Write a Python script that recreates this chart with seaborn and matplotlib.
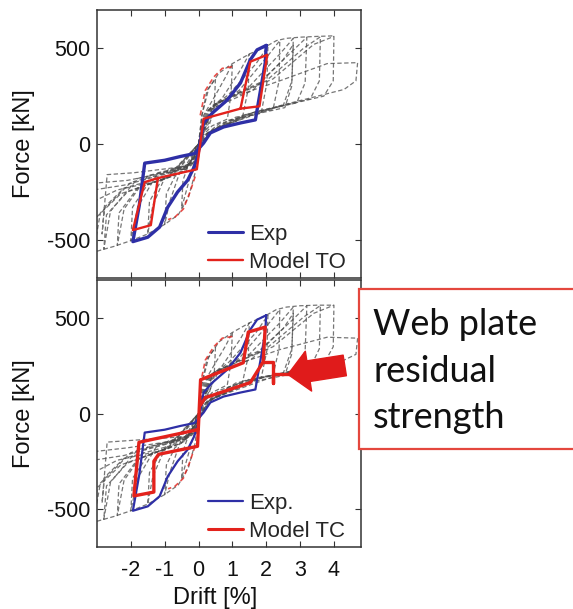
import matplotlib
matplotlib.use("Agg")
import matplotlib.pyplot as plt
import numpy as np
import pandas as pd
import seaborn as sns
from matplotlib.lines import Line2D
from matplotlib.patches import Rectangle, FancyArrowPatch

# ---------------------------------------------------------------- data
# Experimental loop (drift %, force kN)
exp_drift = [2.00, 1.97, 1.85, 1.73, 1.68, 1.24, 0.74, 0.35, 0.15, -0.12, -0.53, -1.00,
             -1.59, -1.75, -1.94, -1.75, -1.50, -1.15, -0.91, -0.62, -0.32, -0.13, -0.03,
             0.15, 0.41, 0.85, 1.24, 1.53, 1.73, 2.00]
exp_force = [515, 424, 300, 178, 126, 110, 89, 58, 5, -50, -65, -85,
             -100, -320, -510, -500, -487, -434, -330, -251, -189, -120, -68,
             110, 162, 230, 319, 440, 492, 515]

# Model TO, cycle at 2 % drift
to_drift = [-1.20, -1.41, -1.94, -1.59, -1.20, -0.05, 0.15, 1.24, 1.80, 2.03, 1.53, 1.24]
to_force = [-178, -424, -450, -199, -178, -132, 132, 185, 197, 466, 430, 185]

# Model TC, cycle at 2 % drift, and the residual web-plate branch
tc_drift = [0.04, 0.20, 1.53, 1.91, 1.97, 1.47, 1.32, 0.06, -0.03, -1.18, -1.32, -1.32,
            -1.91, -1.76, -0.03]
tc_force = [40, 83, 162, 271, 453, 427, 266, 177, -172, -214, -250, -412,
            -432, -151, -85]
tc_res_drift = [1.91, 2.20, 2.20, 2.20, 2.72]
tc_res_force = [271, 271, 162, 205, 205]

# Model first-excursion curves (red dashed)
bb_pos_drift = [0.05, 0.20, 0.45, 0.70, 1.05]
bb_pos_force = [150, 280, 350, 395, 405]
bb_neg_drift = [-0.10, -0.25, -0.45, -0.70, -0.90]
bb_neg_force = [-170, -250, -340, -382, -395]

# Model TO, full loading history (grey dashed cycles)
to_c1_x = [0.00, 0.10, 0.25, 0.50, 0.46, 0.30, 0.10, -0.05, -0.20, -0.50, -0.46, -0.30, -0.10, 0.00]
to_c1_y = [0, 150, 280, 340, 180, 90, 50, -60, -140, -335, -190, -110, -60, 0]
to_c2_x = [0.00, 0.15, 0.45, 0.80, 1.00, 0.96, 0.85, 0.40, 0.10, -0.10, -0.50, -0.85, -1.00, -0.95, -0.70, -0.30, 0.00]
to_c2_y = [0, 150, 240, 350, 420, 260, 130, 95, 40, -90, -120, -300, -420, -260, -170, -120, 0]
to_c3_x = [0.00, 0.20, 0.70, 1.25, 1.50, 1.47, 1.30, 0.60, 0.15, -0.15, -0.90, -1.35, -1.50, -1.45, -1.10, -0.40, 0.00]
to_c3_y = [0, 160, 240, 390, 470, 290, 140, 105, 40, -100, -135, -320, -470, -300, -190, -140, 0]
to_c4_x = [0.00, 0.25, 0.90, 1.70, 2.05, 2.02, 1.85, 0.90, 0.20, -0.20, -1.20, -1.80, -2.00, -1.95, -1.50, -0.50, 0.00]
to_c4_y = [0, 170, 260, 420, 510, 320, 160, 125, 50, -110, -150, -330, -505, -330, -210, -150, 0]
to_c5_x = [0.00, 0.30, 1.20, 2.00, 2.40, 2.38, 2.20, 1.10, 0.25, -0.25, -1.50, -2.20, -2.40, -2.35, -1.80, -0.70, 0.00]
to_c5_y = [0, 180, 280, 450, 540, 330, 180, 140, 55, -115, -165, -340, -530, -360, -230, -160, 0]
to_c6_x = [0.00, 0.35, 1.50, 2.40, 2.80, 2.76, 2.50, 1.30, 0.30, -0.30, -1.80, -2.60, -2.80, -2.72, -2.10, -0.80, 0.00]
to_c6_y = [0, 190, 300, 470, 552, 330, 200, 150, 60, -120, -180, -350, -550, -370, -250, -170, 0]
to_c7_x = [0.00, 0.40, 1.80, 2.80, 3.20, 3.15, 2.90, 1.50, 0.35, -0.35, -2.00, -2.90, -3.10]
to_c7_y = [0, 200, 320, 490, 558, 320, 215, 160, 65, -125, -200, -360, -560]
to_c8_x = [-3.10, -3.00, -2.30, -0.90, 0.00, 0.50, 2.20, 3.40, 4.00, 3.98, 3.70, 1.90, 0.40, -0.40, -2.20, -3.10]
to_c8_y = [-560, -380, -260, -175, 0, 210, 340, 520, 562, 330, 250, 175, 70, -130, -215, -240]
to_c9_x = [-3.10, -2.40, -1.00, 0.00, 0.60, 2.40, 3.80, 4.70, 4.65, 4.30, 2.40, 0.50]
to_c9_y = [-300, -240, -185, 0, 220, 330, 420, 425, 330, 285, 200, 80]
to_c10_x = [0.00, 0.45, 2.00, 3.10, 3.60, 3.57, 3.30, 1.70, 0.40, -0.40, -2.10, -3.10]
to_c10_y = [0, 205, 330, 500, 560, 330, 235, 170, 70, -130, -190, -205]
to_c11_x = [0.00, 0.40, 1.60, 2.50, 2.80, 2.75, 2.55, 1.40, 0.30, -0.30, -1.90, -2.70, -2.85, -2.78, -2.20, -0.85, 0.00]
to_c11_y = [0, 185, 280, 440, 520, 300, 190, 145, 60, -115, -150, -160, -470, -330, -230, -165, 0]
to_env_x = [-3.00, -2.50, -2.00, -1.50, -1.00, -0.60, -0.30, -0.10, 0.00, 0.10, 0.30, 0.60,
            1.00, 1.50, 2.00, 2.30, 2.60, 3.00, 3.50, 4.00]
to_env_y = [-560, -535, -505, -470, -420, -370, -280, -150, 0, 150, 290, 370,
            420, 470, 510, 540, 552, 558, 562, 565]

# Model TC, full loading history (grey dashed cycles)
tc_c1_x = [0.00, 0.10, 0.25, 0.50, 0.46, 0.30, 0.10, -0.05, -0.20, -0.50, -0.46, -0.30, -0.10, 0.00]
tc_c1_y = [0, 160, 285, 345, 190, 100, 55, -65, -150, -340, -200, -115, -60, 0]
tc_c2_x = [0.00, 0.15, 0.45, 0.80, 1.00, 0.96, 0.85, 0.40, 0.10, -0.10, -0.50, -0.85, -1.00, -0.95, -0.70, -0.30, 0.00]
tc_c2_y = [0, 160, 250, 355, 425, 270, 150, 110, 45, -95, -130, -310, -425, -270, -180, -125, 0]
tc_c3_x = [0.00, 0.20, 0.70, 1.25, 1.50, 1.47, 1.30, 0.60, 0.15, -0.15, -0.90, -1.35, -1.50, -1.45, -1.10, -0.40, 0.00]
tc_c3_y = [0, 170, 250, 395, 475, 300, 165, 120, 45, -105, -145, -330, -475, -310, -200, -145, 0]
tc_c4_x = [0.00, 0.25, 0.90, 1.70, 2.05, 2.02, 1.85, 0.90, 0.20, -0.20, -1.20, -1.80, -2.00, -1.95, -1.50, -0.50, 0.00]
tc_c4_y = [0, 180, 270, 425, 515, 330, 185, 140, 55, -115, -160, -340, -510, -340, -220, -155, 0]
tc_c5_x = [0.00, 0.30, 1.20, 2.00, 2.40, 2.38, 2.20, 1.10, 0.25, -0.25, -1.50, -2.20, -2.40, -2.35, -1.80, -0.70, 0.00]
tc_c5_y = [0, 190, 290, 455, 545, 340, 200, 160, 60, -120, -175, -350, -535, -370, -240, -165, 0]
tc_c6_x = [0.00, 0.35, 1.50, 2.40, 2.80, 2.76, 2.50, 1.30, 0.30, -0.30, -1.80, -2.60, -2.80, -2.72, -2.10, -0.80, 0.00]
tc_c6_y = [0, 200, 310, 475, 558, 340, 210, 170, 65, -125, -190, -360, -555, -380, -260, -175, 0]
tc_c7_x = [0.00, 0.40, 1.80, 2.80, 3.20, 3.15, 2.90, 1.50, 0.35, -0.35, -2.00, -2.90, -3.10]
tc_c7_y = [0, 210, 330, 495, 565, 330, 225, 180, 70, -130, -205, -365, -565]
tc_c8_x = [-3.10, -3.00, -2.30, -0.90, 0.00, 0.50, 2.20, 3.40, 4.00, 3.98, 3.70, 1.90, 0.40, -0.40, -2.20, -3.10]
tc_c8_y = [-565, -390, -270, -180, 0, 220, 350, 525, 568, 350, 260, 190, 75, -135, -220, -245]
tc_c9_x = [-3.10, -2.40, -1.00, 0.00, 0.60, 2.40, 3.80, 4.70, 4.65, 4.30, 2.40, 0.50]
tc_c9_y = [-310, -245, -190, 0, 225, 335, 400, 395, 310, 280, 205, 85]
tc_c10_x = [0.00, 0.45, 2.00, 3.10, 3.60, 3.57, 3.30, 1.70, 0.40, -0.40, -2.10, -3.10]
tc_c10_y = [0, 215, 340, 505, 566, 340, 240, 180, 75, -135, -180, -200]
tc_c11_x = [0.00, 0.40, 1.60, 2.50, 2.80, 2.75, 2.55, 1.40, 0.30, -0.30, -1.90, -2.70, -2.85, -2.78, -2.20, -0.85, 0.00]
tc_c11_y = [0, 195, 290, 445, 525, 310, 200, 160, 65, -120, -140, -150, -470, -335, -235, -170, 0]
tc_env_x = [-3.00, -2.50, -2.00, -1.50, -1.00, -0.60, -0.30, -0.10, 0.00, 0.10, 0.30, 0.60,
            1.00, 1.50, 2.00, 2.30, 2.60, 3.00, 3.50, 4.00]
tc_env_y = [-565, -540, -510, -475, -425, -375, -285, -155, 0, 155, 295, 375,
            425, 475, 515, 545, 558, 565, 568, 568]

drift_ticks = [-2, -1, 0, 1, 2, 3, 4]
force_ticks = [-500, 0, 500]

# ---------------------------------------------------------------- style
sns.set_theme(style="ticks")
plt.rcParams["font.family"] = ["Liberation Sans", "DejaVu Sans"]
plt.rcParams["axes.unicode_minus"] = False

BLUE = "#2e2fa6"
RED = "#e3221c"
GREY = "#484848"


def long_table(cycles):
    rows = []
    for k, (xs, ys) in enumerate(cycles):
        for i, (x, y) in enumerate(zip(xs, ys)):
            rows.append({"cycle": k, "step": i, "drift": x, "force": y})
    return pd.DataFrame(rows)


def path_table(xs, ys):
    return pd.DataFrame({"step": range(len(xs)), "drift": xs, "force": ys})


to_grey = long_table([(to_c1_x, to_c1_y), (to_c2_x, to_c2_y), (to_c3_x, to_c3_y),
                      (to_c4_x, to_c4_y), (to_c5_x, to_c5_y), (to_c6_x, to_c6_y),
                      (to_c7_x, to_c7_y), (to_c8_x, to_c8_y), (to_c9_x, to_c9_y),
                      (to_c10_x, to_c10_y), (to_c11_x, to_c11_y), (to_env_x, to_env_y)])
tc_grey = long_table([(tc_c1_x, tc_c1_y), (tc_c2_x, tc_c2_y), (tc_c3_x, tc_c3_y),
                      (tc_c4_x, tc_c4_y), (tc_c5_x, tc_c5_y), (tc_c6_x, tc_c6_y),
                      (tc_c7_x, tc_c7_y), (tc_c8_x, tc_c8_y), (tc_c9_x, tc_c9_y),
                      (tc_c10_x, tc_c10_y), (tc_c11_x, tc_c11_y), (tc_env_x, tc_env_y)])
exp_df = path_table(exp_drift, exp_force)
to_df = path_table(to_drift, to_force)
tc_df = path_table(tc_drift, tc_force)
tc_res_df = path_table(tc_res_drift, tc_res_force)
bb_df = long_table([(bb_pos_drift, bb_pos_force), (bb_neg_drift, bb_neg_force)])

W, H = 573, 609
fig = plt.figure(figsize=(W / 100, H / 100), dpi=100)
fig.patch.set_facecolor("white")
ax_top = fig.add_axes([97 / W, 1 - 278 / H, 264 / W, 268 / H])
ax_bot = fig.add_axes([97 / W, 1 - 547 / H, 264 / W, 267 / H])


def draw_panel(ax, grey, model_parts, blue_lw, red_lw, labels):
    sns.lineplot(data=grey, x="drift", y="force", units="cycle", estimator=None,
                 sort=False, color=GREY, lw=0.9, alpha=0.75,
                 linestyle=(0, (3.5, 2)), ax=ax, legend=False, zorder=1)
    sns.lineplot(data=bb_df, x="drift", y="force", units="cycle", estimator=None,
                 sort=False, color=RED, lw=1.2, alpha=0.8,
                 linestyle=(0, (3, 2)), ax=ax, legend=False, zorder=2)
    sns.lineplot(data=exp_df, x="drift", y="force", estimator=None, sort=False,
                 color=BLUE, lw=blue_lw, ax=ax, legend=False, zorder=3)
    for part in model_parts:
        sns.lineplot(data=part, x="drift", y="force", estimator=None, sort=False,
                     color=RED, lw=red_lw, ax=ax, legend=False, zorder=4)

    ax.set_xlim(-3, 4.8)
    ax.set_ylim(-700, 700)
    ax.set_xticks(drift_ticks)
    ax.set_yticks(force_ticks)
    ax.tick_params(direction="in", top=True, right=True, length=4, width=0.8,
                   color="#333333", labelsize=15.5, pad=5, labelcolor="#111111")
    for sp in ax.spines.values():
        sp.set_color("#333333")
        sp.set_linewidth(1.1)
    ax.set_ylabel("Force [kN]", fontsize=17, color="#111111")
    ax.yaxis.set_label_coords(-0.235, 0.5)
    ax.set_xlabel("")

    handles = [Line2D([], [], color=BLUE, lw=min(blue_lw, 2.2)),
               Line2D([], [], color=RED, lw=min(red_lw, 2.2))]
    ax.legend(handles, labels, loc="lower left", bbox_to_anchor=(0.42, 0.02),
              frameon=False, fontsize=16, handlelength=1.6, handletextpad=0.25,
              labelspacing=0.3, borderpad=0, borderaxespad=0)


draw_panel(ax_top, to_grey, [to_df], 2.4, 1.7, ["Exp", "Model TO"])
ax_top.tick_params(labelbottom=False)

draw_panel(ax_bot, tc_grey, [tc_df, tc_res_df], 1.6, 2.4, ["Exp.", "Model TC"])
ax_bot.tick_params(axis="x", pad=9)
ax_bot.set_xlabel("Drift [%]", fontsize=17, color="#111111")
ax_bot.xaxis.set_label_coords(0.447, -0.15)

# Callout box
box = Rectangle((359 / W, 1 - 449 / H), 0.45, 160 / H, transform=fig.transFigure,
                facecolor="white", edgecolor="#e4473d", lw=1.6, zorder=10)
fig.add_artist(box)
for txt, base in [("Web plate", 335), ("residual", 382), ("strength", 428)]:
    fig.text(373 / W, 1 - base / H, txt, fontsize=26, family=["Lato", "DejaVu Sans"],
             color="#111111", va="baseline", ha="left", zorder=11)

# Arrow pointing at the residual branch
arrow = FancyArrowPatch((4.32, 252), (2.64, 205), transform=ax_bot.transData,
                        arrowstyle="simple,head_length=15,head_width=29,tail_width=15",
                        mutation_scale=1, color="#e01b1b", shrinkA=0, shrinkB=0,
                        zorder=9, clip_on=False)
ax_bot.add_patch(arrow)

fig.savefig("out.png", dpi=100, facecolor="white")
